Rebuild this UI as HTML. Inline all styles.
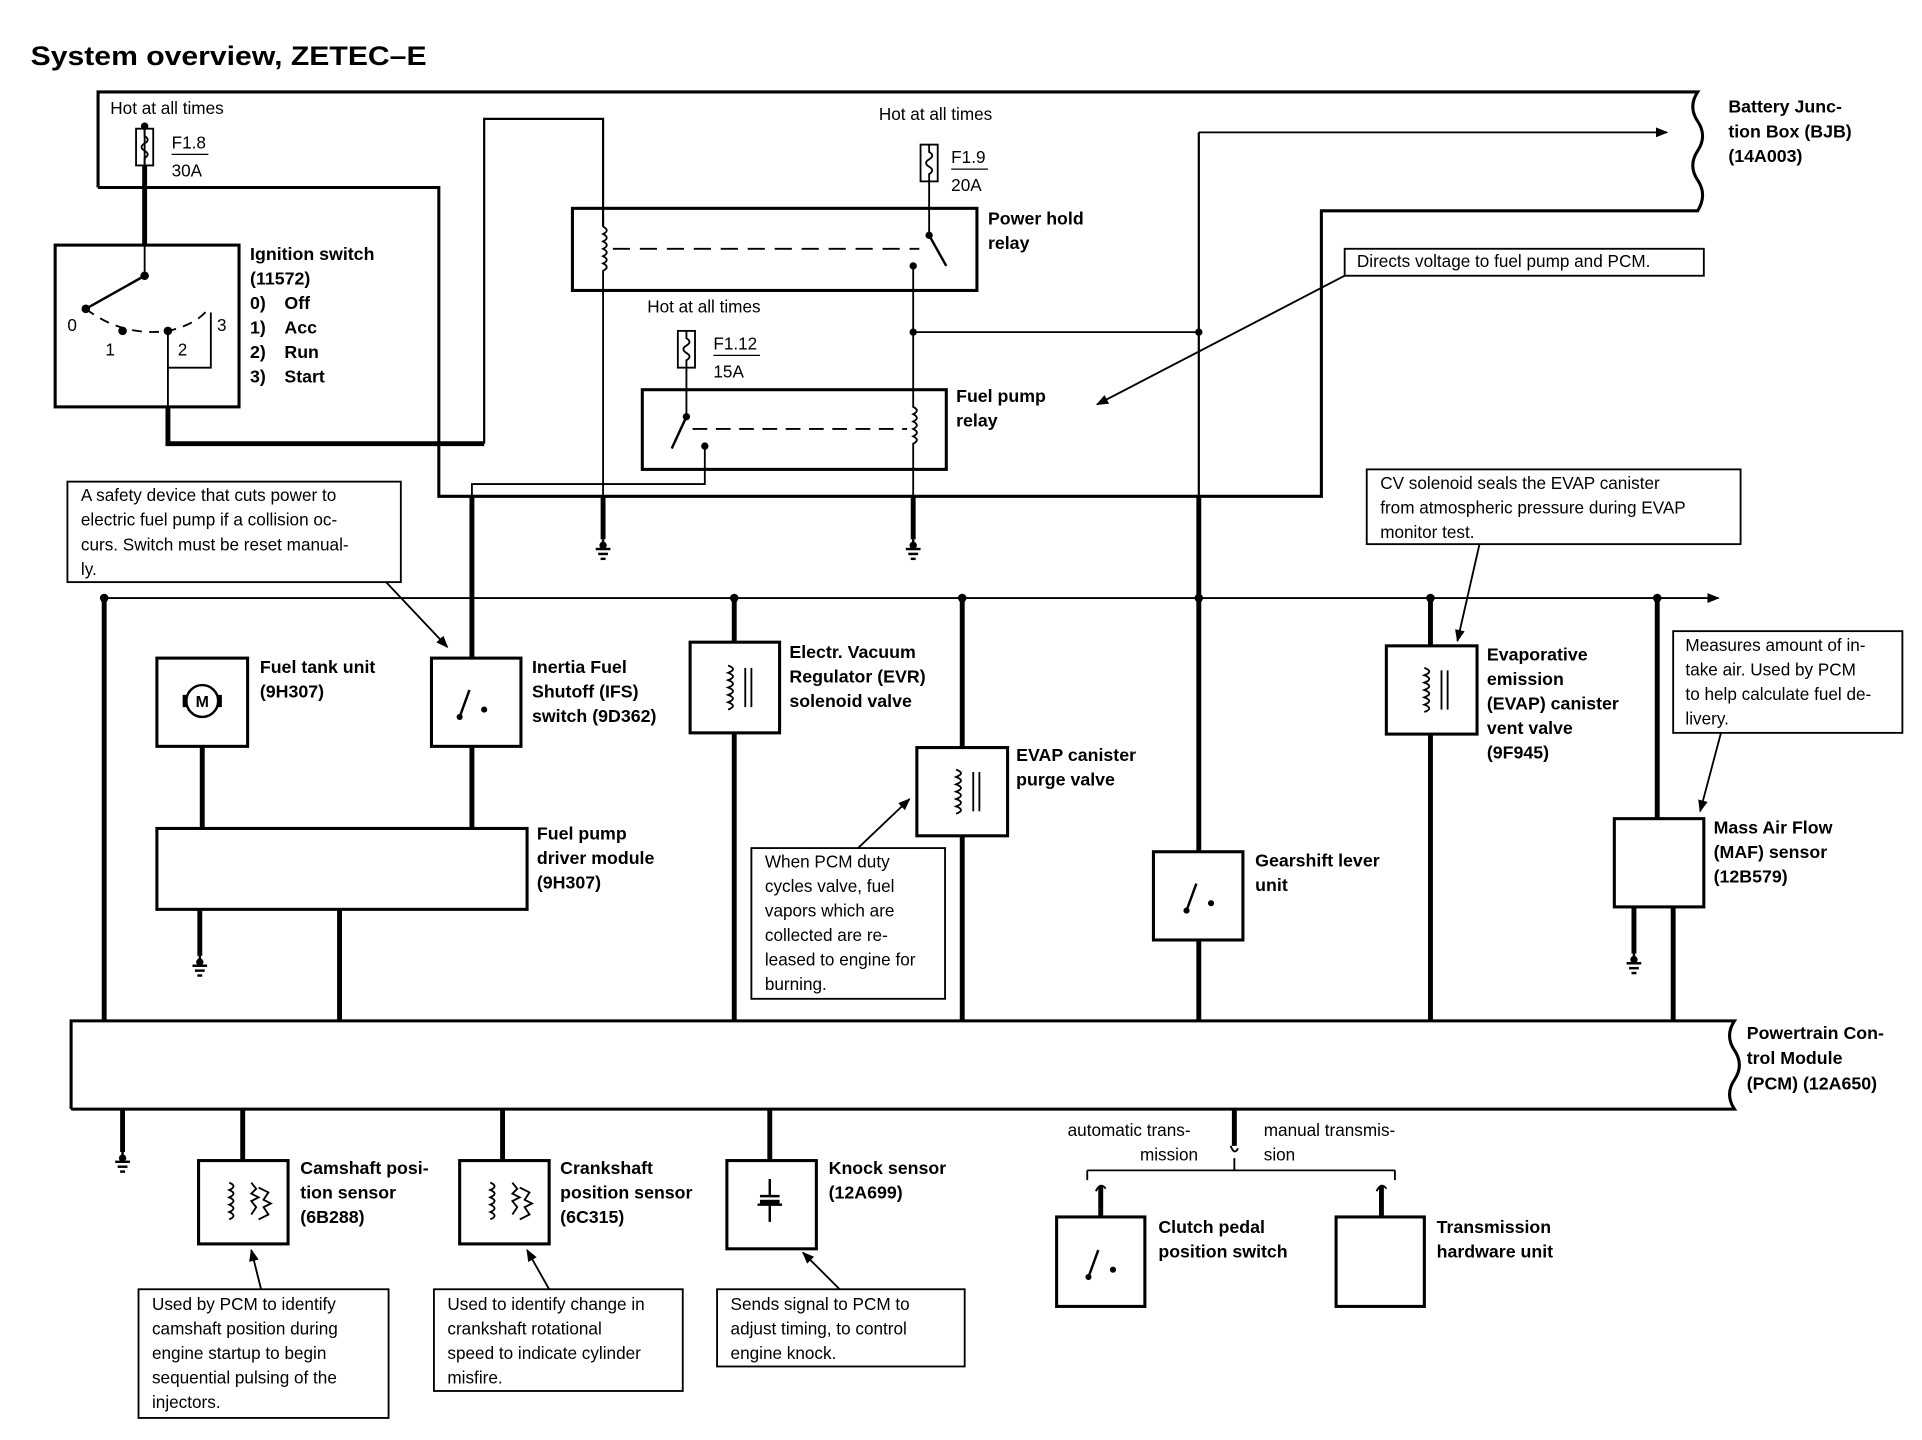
<!DOCTYPE html>
<html><head><meta charset="utf-8"><style>
html,body{margin:0;padding:0;background:#fff}
svg{display:block}
text{font-family:"Liberation Sans",sans-serif;fill:#000}
.b{font-weight:bold;font-size:14.5px}
.n{font-size:14px}
</style></head><body>
<svg width="1922" height="1440" viewBox="0 0 1568 1175" preserveAspectRatio="none" xmlns="http://www.w3.org/2000/svg">
<defs>
<marker id="ar" markerWidth="10" markerHeight="8" refX="9" refY="4" orient="auto" markerUnits="userSpaceOnUse"><path d="M0,0 L10,4 L0,8 Z" fill="#000"/></marker>
<g id="gnd"><line x1="0" y1="0" x2="0" y2="6" stroke="#000" stroke-width="2"/><circle cx="0" cy="5" r="3"/><line x1="-6" y1="8" x2="6" y2="8" stroke="#000" stroke-width="2"/><line x1="-4" y1="12" x2="4" y2="12" stroke="#000" stroke-width="2"/><line x1="-2" y1="16" x2="2" y2="16" stroke="#000" stroke-width="2"/></g>
<g id="fuse"><rect x="-7" y="0" width="14" height="30" fill="none" stroke="#000" stroke-width="1.5"/><path d="M0,0 v6 q5,3 0,6 q-5,3 0,6 q5,3 0,6 v6" fill="none" stroke="#000" stroke-width="1.5"/></g>
<g id="sw"><circle cx="-10" cy="12" r="2.5"/><line x1="-10" y1="12" x2="-2" y2="-10" stroke="#000" stroke-width="2"/><circle cx="10" cy="6" r="2.5"/></g>
<g id="sol"><path d="M-6,-18 q8,3 0,6 q8,3 0,6 q8,3 0,6 q8,3 0,6 q8,3 0,6 q8,3 0,6" fill="none" stroke="#000" stroke-width="1.5"/><line x1="8" y1="-16" x2="8" y2="16" stroke="#000" stroke-width="1.5"/><line x1="13" y1="-16" x2="13" y2="16" stroke="#000" stroke-width="1.5"/></g>
<g id="hall"><path d="M-18,-16 q7,3 0,6 q7,3 0,6 q7,3 0,6 q7,3 0,6 q7,3 0,6" fill="none" stroke="#000" stroke-width="1.5"/><path d="M0,-16 l4,5 l-4,4 l6,3 l-6,3 l4,5 l-4,6 M6,-12 l8,4 l-4,6 l6,3 l-6,3 l4,6 l-8,4" fill="none" stroke="#000" stroke-width="1.5"/></g>
</defs>
<g fill="none" stroke="#000">
<path d="M80,153 V75 H1385 q-8,12 0,24 q8,12 0,24 q-8,12 0,24 q8,12 0,25 H1078 V405 H358 V153 H80" stroke-width="2.5"/>
<line x1="118" y1="103" x2="118" y2="135" stroke-width="1.5"/>
<line x1="118" y1="135" x2="118" y2="200" stroke-width="4"/>
<line x1="118" y1="200" x2="118" y2="225" stroke-width="1.5"/>
<rect x="45" y="200" width="150" height="132" stroke-width="2.5"/>
<line x1="118" y1="225" x2="70" y2="252" stroke-width="2"/>
<path d="M70,252 Q100,275 137,270 Q160,265 170,252" stroke-width="1.5" stroke-dasharray="8,6"/>
<path d="M137,270 V300 H172 V255" stroke-width="1.5"/>
<line x1="137" y1="300" x2="137" y2="332" stroke-width="1.5"/>
<path d="M137,332 V362 H395" stroke-width="4"/>
<path d="M395,362 V97 H492 V185" stroke-width="1.8"/>
<rect x="467" y="170" width="330" height="67" stroke-width="2.5"/>
<path d="M492,185 q6,3 0,6 q6,3 0,6 q6,3 0,6 q6,3 0,6 q6,3 0,6 q6,3 0,6 V237" stroke-width="1.5"/>
<line x1="500" y1="203" x2="750" y2="203" stroke-width="1.5" stroke-dasharray="14,8"/>
<line x1="758" y1="148" x2="758" y2="192" stroke-width="1.5"/>
<line x1="758" y1="192" x2="772" y2="217" stroke-width="2"/>
<line x1="745" y1="217" x2="745" y2="320" stroke-width="1.5"/>
<line x1="492" y1="237" x2="492" y2="410" stroke-width="1.5"/>
<line x1="492" y1="405" x2="492" y2="440" stroke-width="4"/>
<line x1="745" y1="271" x2="978" y2="271" stroke-width="1.5"/>
<line x1="978" y1="108" x2="978" y2="405" stroke-width="1.8"/>
<line x1="978" y1="108" x2="1360" y2="108" stroke-width="1.5" marker-end="url(#ar)"/>
<line x1="978" y1="405" x2="978" y2="833" stroke-width="4"/>
<rect x="524" y="318" width="248" height="65" stroke-width="2.5"/>
<line x1="560" y1="300" x2="560" y2="340" stroke-width="1.5"/>
<line x1="560" y1="340" x2="548" y2="366" stroke-width="2"/>
<line x1="565" y1="350" x2="740" y2="350" stroke-width="1.5" stroke-dasharray="12,7"/>
<path d="M745,320 V332 q6,3 0,6 q6,3 0,6 q6,3 0,6 q6,3 0,6 q6,3 0,6 V410" stroke-width="1.5"/>
<line x1="745" y1="405" x2="745" y2="440" stroke-width="4"/>
<path d="M575,364 V395 H385 V405" stroke-width="1.5"/>
<line x1="385" y1="405" x2="385" y2="537" stroke-width="4"/>
<rect x="1097" y="203" width="293" height="22" stroke-width="1.5"/>
<line x1="1097" y1="225" x2="895" y2="330" stroke-width="1.5" marker-end="url(#ar)"/>
<rect x="55" y="393" width="272" height="82" stroke-width="1.5"/>
<line x1="315" y1="475" x2="365" y2="528" stroke-width="1.5" marker-end="url(#ar)"/>
<rect x="1115" y="383" width="305" height="61" stroke-width="1.5"/>
<line x1="1207" y1="444" x2="1189" y2="523" stroke-width="1.5" marker-end="url(#ar)"/>
<rect x="1365" y="515" width="187" height="83" stroke-width="1.5"/>
<line x1="1404" y1="598" x2="1387" y2="662" stroke-width="1.5" marker-end="url(#ar)"/>
<line x1="85" y1="488" x2="1402" y2="488" stroke-width="1.5" marker-end="url(#ar)"/>
<line x1="85" y1="488" x2="85" y2="833" stroke-width="4"/>
<line x1="599" y1="488" x2="599" y2="833" stroke-width="4"/>
<line x1="785" y1="488" x2="785" y2="833" stroke-width="4"/>
<line x1="1167" y1="488" x2="1167" y2="833" stroke-width="4"/>
<line x1="1352" y1="488" x2="1352" y2="668" stroke-width="4"/>
<line x1="1365" y1="740" x2="1365" y2="833" stroke-width="4"/>
<line x1="1333" y1="740" x2="1333" y2="778" stroke-width="4"/>
<line x1="165" y1="609" x2="165" y2="676" stroke-width="4"/>
<line x1="385" y1="609" x2="385" y2="676" stroke-width="4"/>
<line x1="163" y1="742" x2="163" y2="780" stroke-width="4"/>
<line x1="277" y1="742" x2="277" y2="833" stroke-width="4"/>
</g>
<g fill="#fff" stroke="#000" stroke-width="2.5">
<rect x="128" y="537" width="74" height="72"/>
<rect x="352" y="537" width="73" height="72"/>
<rect x="128" y="676" width="302" height="66"/>
<rect x="563" y="524" width="73" height="74"/>
<rect x="748" y="610" width="74" height="72"/>
<rect x="941" y="695" width="73" height="72"/>
<rect x="1131" y="527" width="74" height="72"/>
<rect x="1317" y="668" width="73" height="72"/>
<rect x="613" y="692" width="158" height="123" stroke-width="1.5"/>
</g>
<line x1="700" y1="692" x2="742" y2="652" stroke="#000" stroke-width="1.5" marker-end="url(#ar)"/>
<path d="M58,905 V833 H1415 q-8,12 0,24 q8,12 0,24 q-8,12 0,24 H58" fill="none" stroke="#000" stroke-width="2.5"/>
<g fill="none" stroke="#000">
<line x1="100" y1="905" x2="100" y2="940" stroke-width="4"/>
<line x1="198" y1="905" x2="198" y2="947" stroke-width="4"/>
<line x1="410" y1="905" x2="410" y2="947" stroke-width="4"/>
<line x1="628" y1="905" x2="628" y2="947" stroke-width="4"/>
<line x1="1007" y1="905" x2="1007" y2="935" stroke-width="4"/>
<path d="M1004,935 q3,8 6,2" stroke-width="1.5"/>
<line x1="887" y1="955" x2="1138" y2="955" stroke-width="1.5"/>
<path d="M887,955 v8 M1138,955 v8 M1007,945 v10" stroke-width="1.5"/>
<line x1="898" y1="968" x2="898" y2="993" stroke-width="4"/>
<line x1="1127" y1="968" x2="1127" y2="993" stroke-width="4"/>
<path d="M894,972 q4,-8 8,-2 M1123,972 q4,-8 8,-2" stroke-width="1.5"/>
<rect x="162" y="947" width="73" height="68" stroke-width="2.5"/>
<rect x="375" y="947" width="73" height="68" stroke-width="2.5"/>
<rect x="593" y="947" width="73" height="72" stroke-width="2.5"/>
<rect x="862" y="993" width="72" height="73" stroke-width="2.5"/>
<rect x="1090" y="993" width="72" height="73" stroke-width="2.5"/>
<rect x="113" y="1052" width="204" height="105" stroke-width="1.5"/>
<rect x="354" y="1052" width="203" height="83" stroke-width="1.5"/>
<rect x="585" y="1052" width="202" height="63" stroke-width="1.5"/>
<line x1="213" y1="1052" x2="205" y2="1020" stroke-width="1.5" marker-end="url(#ar)"/>
<line x1="448" y1="1052" x2="430" y2="1020" stroke-width="1.5" marker-end="url(#ar)"/>
<line x1="685" y1="1052" x2="655" y2="1022" stroke-width="1.5" marker-end="url(#ar)"/>
<path d="M628,962 v14 M620,976 h16 M618,983 h20 M628,983 v14" stroke-width="2"/>
</g>
<rect x="620" y="979" width="16" height="4"/>
<circle cx="165" cy="572" r="13" fill="none" stroke="#000" stroke-width="2"/>
<rect x="149" y="567" width="4" height="10"/><rect x="177" y="567" width="4" height="10"/>
<text x="165" y="577" text-anchor="middle" style="font-size:13px;font-weight:bold">M</text>
<use href="#sw" x="385" y="573"/>
<use href="#sw" x="978" y="731"/>
<use href="#sw" x="898" y="1030"/>
<use href="#sol" x="600" y="561"/>
<use href="#sol" x="786" y="646"/>
<use href="#sol" x="1168" y="563"/>
<use href="#hall" x="205" y="981"/>
<use href="#hall" x="418" y="981"/>
<use href="#fuse" x="118" y="105"/>
<use href="#fuse" x="758" y="118"/>
<use href="#fuse" x="560" y="270"/>
<g>
<circle cx="118" cy="103" r="3"/><circle cx="758" cy="192" r="3"/><circle cx="745" cy="217" r="3"/>
<circle cx="560" cy="340" r="3"/><circle cx="575" cy="364" r="3"/><circle cx="745" cy="271" r="3"/><circle cx="978" cy="271" r="3"/>
<circle cx="118" cy="225" r="3.5"/><circle cx="70" cy="252" r="3.5"/><circle cx="100" cy="270" r="3.5"/><circle cx="137" cy="270" r="3.5"/>
<circle cx="85" cy="488" r="3.5"/><circle cx="599" cy="488" r="3.5"/><circle cx="785" cy="488" r="3.5"/><circle cx="978" cy="488" r="3.5"/><circle cx="1167" cy="488" r="3.5"/><circle cx="1352" cy="488" r="3.5"/>
</g>
<use href="#gnd" x="492" y="440"/><use href="#gnd" x="745" y="440"/><use href="#gnd" x="163" y="780"/><use href="#gnd" x="1333" y="778"/><use href="#gnd" x="100" y="940"/>
<text x="25" y="53" textLength="323" lengthAdjust="spacingAndGlyphs" style="font-size:22px;font-weight:bold">System overview, ZETEC–E</text>
<text x="90" y="93" class="n">Hot at all times</text>
<text x="140" y="121" class="n">F1.8</text><line x1="140" y1="126" x2="170" y2="126" stroke="#000"/><text x="140" y="144" class="n">30A</text>
<text x="717" y="98" class="n">Hot at all times</text>
<text x="776" y="133" class="n">F1.9</text><line x1="776" y1="138" x2="806" y2="138" stroke="#000"/><text x="776" y="156" class="n">20A</text>
<text x="528" y="255" class="n">Hot at all times</text>
<text x="582" y="285" class="n">F1.12</text><line x1="582" y1="290" x2="620" y2="290" stroke="#000"/><text x="582" y="308" class="n">15A</text>
<text x="55" y="270" class="n">0</text><text x="86" y="290" class="n">1</text><text x="145" y="290" class="n">2</text><text x="177" y="270" class="n">3</text>
<text class="b"><tspan x="204" y="212">Ignition switch</tspan><tspan x="204" y="232">(11572)</tspan><tspan x="204" y="252">0)</tspan><tspan x="232" y="252">Off</tspan><tspan x="204" y="272">1)</tspan><tspan x="232" y="272">Acc</tspan><tspan x="204" y="292">2)</tspan><tspan x="232" y="292">Run</tspan><tspan x="204" y="312">3)</tspan><tspan x="232" y="312">Start</tspan></text>
<text class="b"><tspan x="806" y="183">Power hold</tspan><tspan x="806" y="203">relay</tspan></text>
<text class="b"><tspan x="780" y="328">Fuel pump</tspan><tspan x="780" y="348">relay</tspan></text>
<text class="b"><tspan x="1410" y="92">Battery Junc-</tspan><tspan x="1410" y="112">tion Box (BJB)</tspan><tspan x="1410" y="132">(14A003)</tspan></text>
<text x="1107" y="218" class="n">Directs voltage to fuel pump and PCM.</text>
<text class="n"><tspan x="66" y="409">A safety device that cuts power to</tspan><tspan x="66" y="429">electric fuel pump if a collision oc-</tspan><tspan x="66" y="449">curs. Switch must be reset manual-</tspan><tspan x="66" y="469">ly.</tspan></text>
<text class="n"><tspan x="1126" y="399">CV solenoid seals the EVAP canister</tspan><tspan x="1126" y="419">from atmospheric pressure during EVAP</tspan><tspan x="1126" y="439">monitor test.</tspan></text>
<text class="n"><tspan x="1375" y="531">Measures amount of in-</tspan><tspan x="1375" y="551">take air. Used by PCM</tspan><tspan x="1375" y="571">to help calculate fuel de-</tspan><tspan x="1375" y="591">livery.</tspan></text>
<text class="b"><tspan x="212" y="549">Fuel tank unit</tspan><tspan x="212" y="569">(9H307)</tspan></text>
<text class="b"><tspan x="434" y="549">Inertia Fuel</tspan><tspan x="434" y="569">Shutoff (IFS)</tspan><tspan x="434" y="589">switch (9D362)</tspan></text>
<text class="b"><tspan x="644" y="537">Electr. Vacuum</tspan><tspan x="644" y="557">Regulator (EVR)</tspan><tspan x="644" y="577">solenoid valve</tspan></text>
<text class="b"><tspan x="829" y="621">EVAP canister</tspan><tspan x="829" y="641">purge valve</tspan></text>
<text class="b"><tspan x="1213" y="539">Evaporative</tspan><tspan x="1213" y="559">emission</tspan><tspan x="1213" y="579">(EVAP) canister</tspan><tspan x="1213" y="599">vent valve</tspan><tspan x="1213" y="619">(9F945)</tspan></text>
<text class="b"><tspan x="438" y="685">Fuel pump</tspan><tspan x="438" y="705">driver module</tspan><tspan x="438" y="725">(9H307)</tspan></text>
<text class="n"><tspan x="624" y="708">When PCM duty</tspan><tspan x="624" y="728">cycles valve, fuel</tspan><tspan x="624" y="748">vapors which are</tspan><tspan x="624" y="768">collected are re-</tspan><tspan x="624" y="788">leased to engine for</tspan><tspan x="624" y="808">burning.</tspan></text>
<text class="b"><tspan x="1024" y="707">Gearshift lever</tspan><tspan x="1024" y="727">unit</tspan></text>
<text class="b"><tspan x="1398" y="680">Mass Air Flow</tspan><tspan x="1398" y="700">(MAF) sensor</tspan><tspan x="1398" y="720">(12B579)</tspan></text>
<text class="b"><tspan x="1425" y="848">Powertrain Con-</tspan><tspan x="1425" y="868">trol Module</tspan><tspan x="1425" y="889">(PCM) (12A650)</tspan></text>
<text class="b"><tspan x="245" y="958">Camshaft posi-</tspan><tspan x="245" y="978">tion sensor</tspan><tspan x="245" y="998">(6B288)</tspan></text>
<text class="b"><tspan x="457" y="958">Crankshaft</tspan><tspan x="457" y="978">position sensor</tspan><tspan x="457" y="998">(6C315)</tspan></text>
<text class="b"><tspan x="676" y="958">Knock sensor</tspan><tspan x="676" y="978">(12A699)</tspan></text>
<text class="n"><tspan x="871" y="927">automatic trans-</tspan><tspan x="930" y="947">mission</tspan></text>
<text class="n"><tspan x="1031" y="927">manual transmis-</tspan><tspan x="1031" y="947">sion</tspan></text>
<text class="b"><tspan x="945" y="1006">Clutch pedal</tspan><tspan x="945" y="1026">position switch</tspan></text>
<text class="b"><tspan x="1172" y="1006">Transmission</tspan><tspan x="1172" y="1026">hardware unit</tspan></text>
<text class="n"><tspan x="124" y="1069">Used by PCM to identify</tspan><tspan x="124" y="1089">camshaft position during</tspan><tspan x="124" y="1109">engine startup to begin</tspan><tspan x="124" y="1129">sequential pulsing of the</tspan><tspan x="124" y="1149">injectors.</tspan></text>
<text class="n"><tspan x="365" y="1069">Used to identify change in</tspan><tspan x="365" y="1089">crankshaft rotational</tspan><tspan x="365" y="1109">speed to indicate cylinder</tspan><tspan x="365" y="1129">misfire.</tspan></text>
<text class="n"><tspan x="596" y="1069">Sends signal to PCM to</tspan><tspan x="596" y="1089">adjust timing, to control</tspan><tspan x="596" y="1109">engine knock.</tspan></text>
</svg>
</body></html>
